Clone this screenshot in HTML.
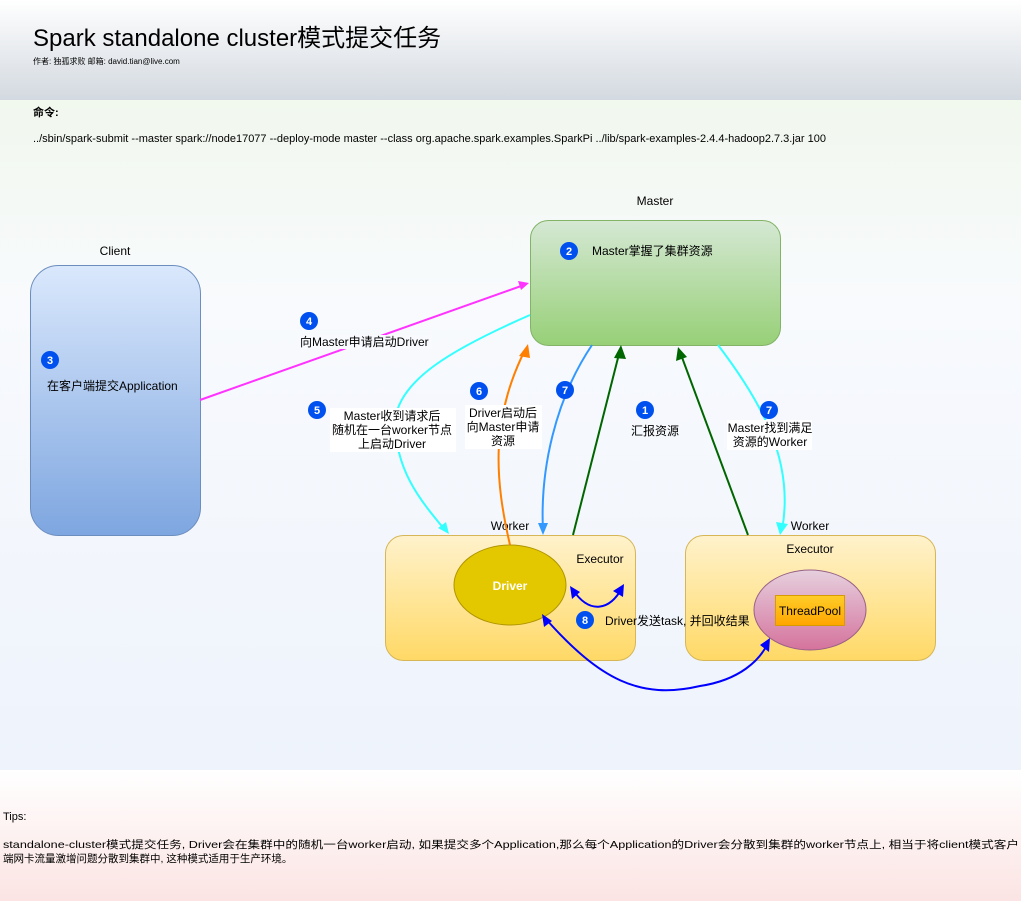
<!DOCTYPE html>
<html><head><meta charset="utf-8"><style>
html,body{margin:0;padding:0;width:1021px;height:901px;overflow:hidden;background:#fff}
svg{display:block}
text{font-family:"Liberation Sans","Noto Sans CJK SC",sans-serif;font-size:12px;fill:#000}
.cm{font-family:"Comic Sans MS","Liberation Sans","Noto Sans CJK SC",sans-serif}
.n{fill:#fff;font-weight:bold;font-size:11px;text-anchor:middle}
</style></head><body>
<svg width="1021" height="901" viewBox="0 0 1021 901">
<defs>
<linearGradient id="hd" x1="0" y1="0" x2="0" y2="1"><stop offset="0" stop-color="#ffffff"/><stop offset="1" stop-color="#d3d9e0"/></linearGradient>
<linearGradient id="md" x1="0" y1="0" x2="0" y2="1"><stop offset="0" stop-color="#f1f8ee"/><stop offset="0.3" stop-color="#f8fafd"/><stop offset="1" stop-color="#eef3fc"/></linearGradient>
<linearGradient id="ft" x1="0" y1="0" x2="0" y2="1"><stop offset="0" stop-color="#ffffff"/><stop offset="1" stop-color="#fbe4e3"/></linearGradient>
<linearGradient id="cl" x1="0" y1="0" x2="0" y2="1"><stop offset="0" stop-color="#dae8fc"/><stop offset="1" stop-color="#7ea6e0"/></linearGradient>
<linearGradient id="ms" x1="0" y1="0" x2="0" y2="1"><stop offset="0" stop-color="#d5e8d4"/><stop offset="1" stop-color="#97d077"/></linearGradient>
<linearGradient id="wk" x1="0" y1="0" x2="0" y2="1"><stop offset="0" stop-color="#fff2cc"/><stop offset="1" stop-color="#ffd966"/></linearGradient>
<linearGradient id="tp" x1="0" y1="0" x2="0" y2="1"><stop offset="0" stop-color="#e6d0de"/><stop offset="1" stop-color="#d5739d"/></linearGradient>
<linearGradient id="tb" x1="0" y1="0" x2="0" y2="1"><stop offset="0" stop-color="#ffcd28"/><stop offset="1" stop-color="#ffa500"/></linearGradient>
</defs>
<rect x="0" y="0" width="1021" height="100" fill="url(#hd)"/>
<rect x="0" y="100" width="1021" height="670" fill="url(#md)"/>
<rect x="0" y="770" width="1021" height="131" fill="url(#ft)"/>
<text class="cm" x="33" y="46" style="font-size:24px">Spark standalone cluster模式提交任务</text>
<text class="cm" x="33" y="64" style="font-size:8px">作者: 独孤求败 邮箱: david.tian@live.com</text>
<text x="33" y="116" style="font-size:11px;font-weight:bold">命令:</text>
<text x="33" y="142" style="font-size:11px">../sbin/spark-submit --master spark://node17077 --deploy-mode master --class org.apache.spark.examples.SparkPi ../lib/spark-examples-2.4.4-hadoop2.7.3.jar 100</text>

<text x="115" y="255" text-anchor="middle">Client</text>
<rect x="30.5" y="265.5" width="170" height="270" rx="28" fill="url(#cl)" stroke="#6c8ebf"/>
<text x="655" y="205" text-anchor="middle">Master</text>
<rect x="530.5" y="220.5" width="250" height="125" rx="18" fill="url(#ms)" stroke="#82b366"/>
<rect x="385.5" y="535.5" width="250" height="125" rx="18" fill="url(#wk)" stroke="#d6b656"/>
<rect x="685.5" y="535.5" width="250" height="125" rx="18" fill="url(#wk)" stroke="#d6b656"/>
<text x="510" y="530" text-anchor="middle">Worker</text>
<text x="810" y="530" text-anchor="middle">Worker</text>
<text x="600" y="563" text-anchor="middle">Executor</text>
<text x="810" y="553" text-anchor="middle">Executor</text>
<ellipse cx="510" cy="585" rx="56" ry="40" fill="#e3c800" stroke="#b09500"/>
<text x="510" y="590" text-anchor="middle" style="fill:#fff;font-weight:bold">Driver</text>
<ellipse cx="810" cy="610" rx="56" ry="40" fill="url(#tp)" stroke="#996185"/>
<rect x="775.5" y="595.5" width="69" height="30" fill="url(#tb)" stroke="#d79b00"/>
<text x="810" y="615" text-anchor="middle">ThreadPool</text>

<g fill="none" stroke-width="2">
<path d="M200 400 L524 285" stroke="#ff33ff"/>
<path d="M530 315 C450 350 400 380 395 420 C395 470 420 500 445 530" stroke="#33ffff"/>
<path d="M510 545 C495 480 490 420 525 350" stroke="#ff8000"/>
<path d="M592 345 C555 400 540 470 543 530" stroke="#3399ff"/>
<path d="M573 535 L620 350" stroke="#006600"/>
<path d="M748 535 L680 352" stroke="#006600"/>
<path d="M718 345 C760 400 795 460 782 530" stroke="#33ffff"/>
<path d="M573 590 C590 615 610 610 622 588" stroke="#0000ff"/>
<path d="M545 618 C600 680 640 700 700 686 C740 680 760 660 768 643" stroke="#0000ff"/>
</g>
<g>
<polygon points="529,283 518,281 521,290" fill="#ff33ff"/>
<polygon points="449,534 438,528 446,522" fill="#33ffff"/>
<polygon points="528,344 519,356 530,358" fill="#ff8000"/>
<polygon points="543,535 538,523 548,523" fill="#3399ff"/>
<polygon points="621,345 614,358 626,359" fill="#006600"/>
<polygon points="678,347 676,361 687,357" fill="#006600"/>
<polygon points="780,535 776,522 788,524" fill="#33ffff"/>
<polygon points="570,586 572,599 580,592" fill="#0000ff"/>
<polygon points="624,584 613,591 623,597" fill="#0000ff"/>
<polygon points="542,614 544,627 552,621" fill="#0000ff"/>
<polygon points="770,638 760,645 769,652" fill="#0000ff"/>
</g>
<g>
<rect x="300" y="335" width="132" height="14" fill="#f8fafd"/>
<rect x="330" y="408" width="126" height="44" fill="#fff"/>
<rect x="465" y="405" width="77" height="44" fill="#fff"/>
<rect x="727" y="420" width="85" height="30" fill="#fff"/>
</g>
<g>
<circle cx="50" cy="360" r="9" fill="#0050ef"/><text class="n" x="50" y="364">3</text>
<circle cx="569" cy="251" r="9" fill="#0050ef"/><text class="n" x="569" y="255">2</text>
<circle cx="309" cy="321" r="9" fill="#0050ef"/><text class="n" x="309" y="325">4</text>
<circle cx="317" cy="410" r="9" fill="#0050ef"/><text class="n" x="317" y="414">5</text>
<circle cx="479" cy="391" r="9" fill="#0050ef"/><text class="n" x="479" y="395">6</text>
<circle cx="565" cy="390" r="9" fill="#0050ef"/><text class="n" x="565" y="394">7</text>
<circle cx="645" cy="410" r="9" fill="#0050ef"/><text class="n" x="645" y="414">1</text>
<circle cx="769" cy="410" r="9" fill="#0050ef"/><text class="n" x="769" y="414">7</text>
<circle cx="585" cy="620" r="9" fill="#0050ef"/><text class="n" x="585" y="624">8</text>
</g>
<text x="47" y="390">在客户端提交Application</text>
<text x="592" y="255">Master掌握了集群资源</text>
<text x="300" y="346">向Master申请启动Driver</text>
<text x="392" y="420" text-anchor="middle">Master收到请求后</text>
<text x="392" y="434" text-anchor="middle">随机在一台worker节点</text>
<text x="392" y="448" text-anchor="middle">上启动Driver</text>
<text x="503" y="417" text-anchor="middle">Driver启动后</text>
<text x="503" y="431" text-anchor="middle">向Master申请</text>
<text x="503" y="445" text-anchor="middle">资源</text>
<text x="655" y="435" text-anchor="middle">汇报资源</text>
<text x="770" y="432" text-anchor="middle">Master找到满足</text>
<text x="770" y="446" text-anchor="middle">资源的Worker</text>
<text x="605" y="625">Driver发送task, 并回收结果</text>

<text class="cm" x="3" y="820" style="font-size:11px">Tips:</text>
<text class="cm" x="3" y="848" style="font-size:10.5px" textLength="1016" lengthAdjust="spacingAndGlyphs">standalone-cluster模式提交任务, Driver会在集群中的随机一台worker启动, 如果提交多个Application,那么每个Application的Driver会分散到集群的worker节点上, 相当于将client模式客户</text>
<text class="cm" x="3" y="862" style="font-size:10.5px">端网卡流量激增问题分散到集群中, 这种模式适用于生产环境。</text>
</svg>
</body></html>
